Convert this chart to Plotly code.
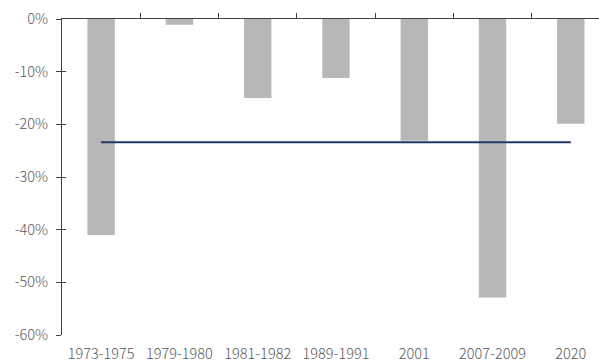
import plotly.graph_objects as go

# Peak-to-trough declines by period
periods = ["1973-1975", "1979-1980", "1981-1982", "1989-1991", "2001", "2007-2009", "2020"]
declines = [-41.0, -1.1, -15.0, -11.2, -23.1, -52.9, -19.9]
average_decline = [-23.4] * len(periods)
y_ticks = [0, -10, -20, -30, -40, -50, -60]
y_tick_text = ["0%", "-10%", "-20%", "-30%", "-40%", "-50%", "-60%"]

pos = list(range(len(periods)))
axis_color = "#404040"
text_color = "#595959"
font_family = "Noto Sans CJK SC, Noto Sans, sans-serif"

fig = go.Figure()
fig.add_trace(go.Bar(
    x=pos, y=declines, width=0.35,
    marker=dict(color="#b7b7b7", line=dict(width=0)),
    showlegend=False,
))
fig.add_trace(go.Scatter(
    x=pos, y=average_decline, mode="lines",
    line=dict(color="#1c3a63", width=2),
    showlegend=False,
))
# invisible trace to activate the top/inner-tick axes
fig.add_trace(go.Scatter(x=[0], y=[0], xaxis="x2", yaxis="y2",
                         mode="markers", marker=dict(opacity=0),
                         showlegend=False, hoverinfo="skip"))

fig.update_layout(
    width=599, height=363,
    margin=dict(l=62, r=0, t=19, b=28),
    plot_bgcolor="white", paper_bgcolor="white",
    font=dict(family=font_family, size=14.5, color=text_color, weight=300),
    xaxis=dict(
        range=[-0.5, 6.36], tickmode="array", tickvals=pos, ticktext=periods,
        showline=False, showgrid=False, zeroline=False,
        ticks="outside", ticklen=6, tickcolor="rgba(0,0,0,0)",
        tickfont=dict(size=14.5, color=text_color, weight=300),
    ),
    xaxis2=dict(
        overlaying="x", side="top", anchor="y",
        range=[-0.5, 6.36], tickmode="array",
        tickvals=[0.5, 1.5, 2.5, 3.5, 4.5, 5.5],
        showticklabels=False, showgrid=False, zeroline=False,
        showline=True, linecolor=axis_color, linewidth=1,
        ticks="outside", ticklen=5, tickcolor=axis_color, tickwidth=1,
    ),
    yaxis=dict(
        range=[-60, 0], tickmode="array", tickvals=y_ticks, ticktext=y_tick_text,
        showline=True, linecolor=axis_color, linewidth=1,
        showgrid=False, zeroline=False,
        ticks="outside", ticklen=5, tickcolor=axis_color, tickwidth=1,
        tickfont=dict(size=14.5, color=text_color, weight=300),
        ticklabelstandoff=5,
    ),
    yaxis2=dict(
        overlaying="y", side="left", anchor="x",
        range=[-60, 0], tickmode="array", tickvals=y_ticks,
        showticklabels=False, showgrid=False, zeroline=False, showline=False,
        ticks="inside", ticklen=4, tickcolor=axis_color, tickwidth=1,
    ),
)

fig.write_html("out.html")
